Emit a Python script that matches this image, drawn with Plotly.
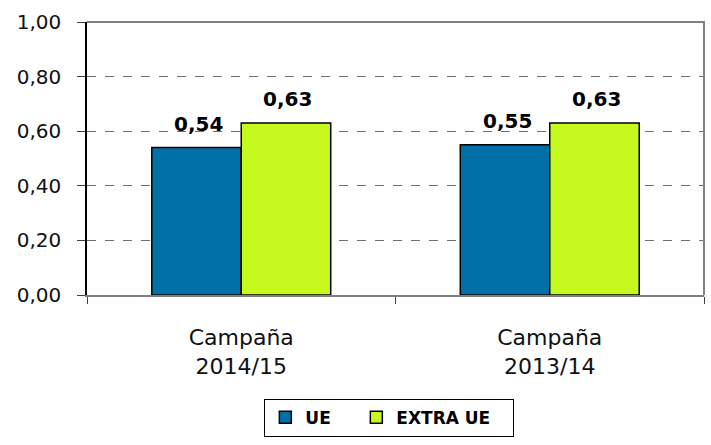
import plotly.graph_objects as go

categories = ["Campaña<br>2014/15", "Campaña<br>2013/14"]
series_names = ["UE", "EXTRA UE"]
ue_values = [0.54, 0.55]
extra_values = [0.63, 0.63]
y_tickvals = [0, 0.2, 0.4, 0.6, 0.8, 1.0]
y_ticktext = ["0,00", "0,20", "0,40", "0,60", "0,80", "1,00"]

colors = ["#0070A6", "#C6FA1E"]
legend_widths = [46, 112]
FONT = "DejaVu Sans"

W, H = 711, 445
ML, MR, MT, MB = 87, 7, 22, 150
BARGAP = 0.42

fig = go.Figure()
for name, vals, col, lw in zip(series_names, [ue_values, extra_values], colors, legend_widths):
    fig.add_trace(go.Bar(
        x=categories, y=vals, name=name, legendwidth=lw,
        marker=dict(color=col, line=dict(color="#000000", width=1.5)),
    ))

plot_w = W - ML - MR
bar_px = plot_w / len(categories) * (1 - BARGAP) / 2
annotations = []
for k, vals in enumerate([ue_values, extra_values]):
    shift = (k - 0.5) * bar_px
    for c, v in zip(categories, vals):
        annotations.append(dict(
            x=c, y=v, xref="x", yref="y", text="<b>" + f"{v:.2f}".replace(".", ",") + "</b>",
            showarrow=False, xshift=shift + 2, yshift=10, yanchor="bottom",
            font=dict(family=FONT, size=20, color="#000000"),
        ))

fig.update_layout(
    width=W, height=H,
    margin=dict(l=ML, r=MR, t=MT, b=MB),
    paper_bgcolor="white", plot_bgcolor="white",
    barmode="group", bargap=BARGAP, bargroupgap=0,
    separators=",.",
    font=dict(family=FONT, color="#111111"),
    showlegend=True,
    legend=dict(
        orientation="h", x=0.49, xanchor="center", y=-0.38, yanchor="top",
        bordercolor="#000000", borderwidth=1,
        font=dict(family=FONT, size=17, color="#000000", weight="bold"),
        tracegroupgap=0,
    ),
    annotations=annotations,
    shapes=[dict(type="path", xref="paper", yref="paper", path="M 0,1 L 1,1 L 1,0",
                 line=dict(color="#808080", width=2), layer="above")],
)
fig.update_xaxes(
    type="category", tickson="boundaries", ticks="outside", ticklen=7,
    tickcolor="#404040", showline=True, linecolor="#808080", linewidth=2,
    showgrid=False, tickfont=dict(family=FONT, size=22, color="#111111"),
    ticklabelstandoff=22,
)
fig.update_yaxes(
    range=[0, 1], tickvals=y_tickvals, ticktext=y_ticktext,
    ticks="outside", ticklen=8, tickcolor="#404040",
    showline=True, linecolor="#000000", linewidth=1.5,
    showgrid=True, gridcolor="#707070", griddash="dash", gridwidth=1,
    zeroline=False, tickfont=dict(family=FONT, size=20, color="#111111"),
    ticklabelstandoff=12,
)

fig.write_html("out.html")
